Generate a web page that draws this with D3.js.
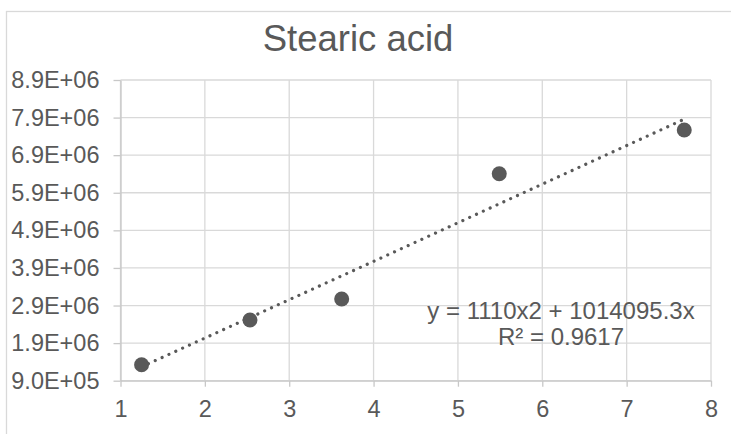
<!DOCTYPE html>
<html>
<head>
<meta charset="utf-8">
<script src="https://cdn.jsdelivr.net/npm/d3@7"></script>
<style>
  html, body { margin: 0; padding: 0; background: #fff; }
  svg { display: block; font-family: "Liberation Sans", Arial, sans-serif; }
  .tick text { fill: #595959; font-size: 23.5px; }
  .grid line { stroke: #d9d9d9; stroke-width: 1.3; }
</style>
</head>
<body>
<div id="chart"></div>
<script>
// data
const title = 'Stearic acid'
const xValues = [1.25, 2.535, 3.622, 5.49, 7.683]
const yValues = [1326000, 2515000, 3073000, 6407000, 7569000]
const xTicks = [1, 2, 3, 4, 5, 6, 7, 8]
const yTicks = [900000, 1900000, 2900000, 3900000, 4900000, 5900000, 6900000, 7900000, 8900000]
// dotted trendline, points
const trendX = [1.25, 4.0, 7.683]
const trendY = [1270000, 4074000, 7857000]
const trendLabel = ['y = 1110x2 + 1014095.3x', 'R² = 0.9617']

const width = 731
const height = 434
const marginLeft = 120.5
const marginRight = 20
const marginTop = 80
const marginBottom = 53.3
const textColor = '#595959'

// 8.9E+06 style labels
function sci(v) {
  const parts = v.toExponential(1).toUpperCase().split('E')
  const sign = parts[1][0]
  let exp = parts[1].slice(1)
  if (exp.length < 2) exp = '0' + exp
  return `${parts[0]}E${sign}${exp}`
}

const Chart = {
  init() {
    this.svg = d3.select('#chart').append('svg')
      .attr('width', width)
      .attr('height', height)

    this.x = d3.scaleLinear()
      .domain([xTicks[0], xTicks[xTicks.length - 1]])
      .range([marginLeft, width - marginRight])
    this.y = d3.scaleLinear()
      .domain([yTicks[0], yTicks[yTicks.length - 1]])
      .range([height - marginBottom, marginTop])

    this.render()
  },
  render() {
    const { svg, x, y } = this

    // outer chart border (runs off the right and bottom)
    svg.append('rect')
      .attr('x', 6.5)
      .attr('y', 11.5)
      .attr('width', 900)
      .attr('height', 600)
      .attr('fill', 'none')
      .attr('stroke', '#d9d9d9')
      .attr('stroke-width', 1.3)

    svg.append('text')
      .attr('x', 358)
      .attr('y', 51)
      .attr('text-anchor', 'middle')
      .attr('fill', textColor)
      .style('font-size', '36.5px')
      .text(title)

    // gridlines
    const grid = svg.append('g').attr('class', 'grid')
    grid.selectAll('.gy')
      .data(yTicks)
      .enter()
      .append('line')
      .attr('x1', x.range()[0])
      .attr('x2', x.range()[1])
      .attr('y1', d => y(d))
      .attr('y2', d => y(d))
    grid.selectAll('.gx')
      .data(xTicks)
      .enter()
      .append('line')
      .attr('x1', d => x(d))
      .attr('x2', d => x(d))
      .attr('y1', y.range()[0])
      .attr('y2', y.range()[1])

    // axes
    const yAxis = svg.append('g')
      .attr('transform', `translate(${marginLeft},0)`)
      .call(d3.axisLeft(y).tickValues(yTicks).tickFormat(sci)
        .tickSizeInner(7).tickSizeOuter(0).tickPadding(14))
    const xAxis = svg.append('g')
      .attr('transform', `translate(0,${height - marginBottom})`)
      .call(d3.axisBottom(x).tickValues(xTicks).tickFormat(d3.format('d'))
        .tickSizeInner(6).tickSizeOuter(0).tickPadding(13.5))

    ;[xAxis, yAxis].forEach(a => {
      a.attr('font-family', null).attr('font-size', null)
      a.select('.domain').attr('stroke', '#c8c8c8').attr('stroke-width', 1.3)
      a.selectAll('.tick line').attr('stroke', '#c8c8c8').attr('stroke-width', 1.3)
    })

    // trendline
    const line = d3.line()
      .x(d => x(d[0]))
      .y(d => y(d[1]))
    svg.append('path')
      .datum(d3.zip(trendX, trendY))
      .attr('d', line)
      .attr('fill', 'none')
      .attr('stroke', textColor)
      .attr('stroke-width', 3.2)
      .attr('stroke-linecap', 'round')
      .attr('stroke-dasharray', '0.01 7.5')

    // points
    svg.selectAll('.dot')
      .data(d3.zip(xValues, yValues))
      .enter()
      .append('circle')
      .attr('class', 'dot')
      .attr('cx', d => x(d[0]))
      .attr('cy', d => y(d[1]))
      .attr('r', 7.5)
      .attr('fill', textColor)

    // trendline label
    svg.append('text')
      .attr('text-anchor', 'middle')
      .attr('fill', textColor)
      .style('font-size', '24px')
      .selectAll('tspan')
      .data(trendLabel)
      .enter()
      .append('tspan')
      .attr('x', 561)
      .attr('y', (d, i) => 319 + i * 26)
      .text(d => d)
  }
}

Chart.init()
</script>
</body>
</html>
